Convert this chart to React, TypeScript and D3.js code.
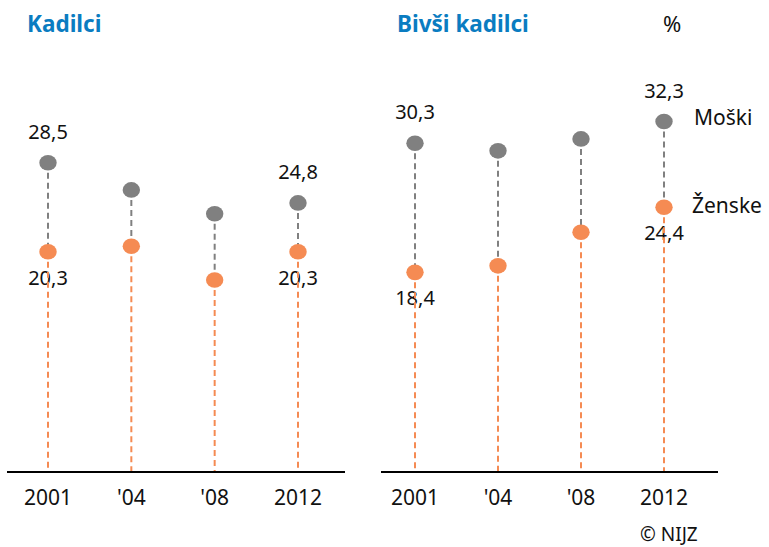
import React from "react";
import * as d3 from "d3";

const years = ["2001", "'04", "'08", "2012"];
const smokersMen = [28.5, 26.0, 23.8, 24.8];
const smokersWomen = [20.3, 20.8, 17.7, 20.3];
const formerMen = [30.3, 29.6, 30.7, 32.3];
const formerWomen = [18.4, 19.0, 22.1, 24.4];
const panelTitles = ["Kadilci", "Bivši kadilci"];
const smokersLabels = [0, 3];
const formerLabels = [0, 3];

const W = 769;
const H = 547;
const GREY = "#808080";
const ORANGE = "#f58b53";
const BLUE = "#0a7cc1";
const FONT = "'Noto Sans', 'DejaVu Sans', sans-serif";

const y = d3.scaleLinear().domain([0, 40]).range([472, 38]);

type PanelProps = {
  x0: number;
  x1: number;
  first: number;
  last: number;
  titleX: number;
  title: string;
  men: number[];
  women: number[];
  labelIdx: number[];
};

const fmt = (v: number) => d3.format(".1f")(v).replace(".", ",");

function Panel({ x0, x1, first, last, titleX, title, men, women, labelIdx }: PanelProps) {
  const x = d3.scalePoint<string>().domain(years).range([first, last]);
  return (
    <g>
      <text
        x={titleX}
        y={32}
        fill={BLUE}
        fontWeight="bold"
        fontSize={22.5}
        fontFamily={FONT}
      >
        {title}
      </text>
      {years.map((yr, i) => {
        const cx = x(yr)!;
        return (
          <g key={yr}>
            {labelIdx.includes(i) && (
              <>
                <text
                  x={cx}
                  y={y(men[i]) - 24}
                  textAnchor="middle"
                  fontSize={20}
                  fontFamily={FONT}
                  fill="#111"
                >
                  {fmt(men[i])}
                </text>
                <text
                  x={cx}
                  y={y(women[i]) + 33}
                  textAnchor="middle"
                  fontSize={20}
                  fontFamily={FONT}
                  fill="#111"
                >
                  {fmt(women[i])}
                </text>
              </>
            )}
            <line
              x1={cx}
              x2={cx}
              y1={y(men[i])}
              y2={y(women[i])}
              stroke={GREY}
              strokeWidth={2}
              strokeDasharray="6,4"
            />
            <line
              x1={cx}
              x2={cx}
              y1={y(women[i])}
              y2={y(0)}
              stroke={ORANGE}
              strokeWidth={2}
              strokeDasharray="6,4"
            />
            <ellipse cx={cx} cy={y(men[i])} rx={8.7} ry={7.8} fill={GREY} />
            <ellipse cx={cx} cy={y(women[i])} rx={8.7} ry={7.8} fill={ORANGE} />
            <text
              x={cx}
              y={y(0) + 33}
              textAnchor="middle"
              fontSize={21}
              fontFamily={FONT}
              fill="#111"
            >
              {yr}
            </text>
          </g>
        );
      })}
      <line x1={x0} x2={x1} y1={y(0)} y2={y(0)} stroke="#000" strokeWidth={2} />
    </g>
  );
}

export default function App() {
  return (
    <div style={{ position: "absolute", left: 0, top: 0 }}>
      <svg width={W} height={H} style={{ display: "block", background: "#fff" }}>
        <Panel
          x0={7}
          x1={345}
          first={48}
          last={298}
          titleX={27}
          title={panelTitles[0]}
          men={smokersMen}
          women={smokersWomen}
          labelIdx={smokersLabels}
        />
        <Panel
          x0={381}
          x1={718}
          first={415}
          last={664}
          titleX={397}
          title={panelTitles[1]}
          men={formerMen}
          women={formerWomen}
          labelIdx={formerLabels}
        />
        <text x={663} y={32} fontSize={22} fontFamily={FONT} fill="#111">
          %
        </text>
        <text x={694} y={125} fontSize={21} fontFamily={FONT} fill="#111">
          Moški
        </text>
        <text x={692} y={213} fontSize={21} fontFamily={FONT} fill="#111">
          Ženske
        </text>
        <text x={640} y={541} fontSize={19} fontFamily={FONT} fill="#111">
          © NIJZ
        </text>
      </svg>
    </div>
  );
}
